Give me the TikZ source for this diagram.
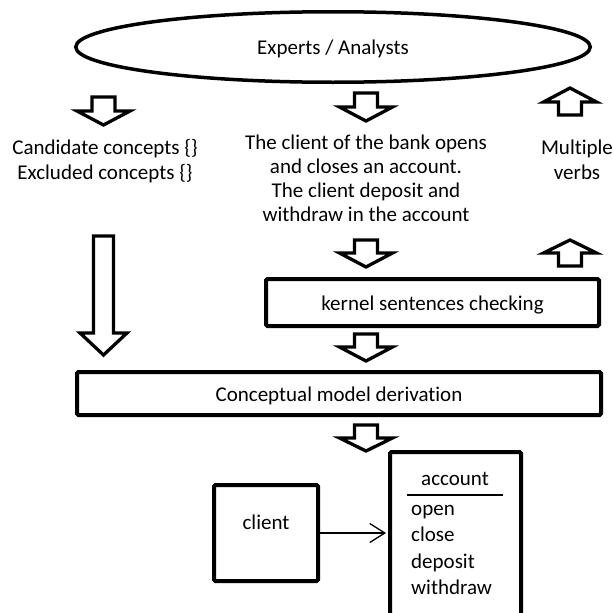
\documentclass[tikz,border=0pt]{standalone}
\usepackage{fontspec}
\setmainfont{Carlito}[Ligatures=NoCommon]
\usetikzlibrary{shapes.geometric,arrows.meta}
\newcommand{\dnarr}[6]{% cx, top, head, tip, shaft half, head half
  \draw[blk] ({#1-#5},-#2) -- ({#1+#5},-#2) -- ({#1+#5},-#3) -- ({#1+#6},-#3) -- (#1,-#4) -- ({#1-#6},-#3) -- ({#1-#5},-#3) -- cycle;}
\newcommand{\uparr}[6]{% cx, tip, head, bottom, shaft half, head half
  \draw[blk] ({#1-#5},-#4) -- ({#1+#5},-#4) -- ({#1+#5},-#3) -- ({#1+#6},-#3) -- (#1,-#2) -- ({#1-#6},-#3) -- ({#1-#5},-#3) -- cycle;}
\begin{document}
\begin{tikzpicture}[x=1pt,y=1pt,
  blk/.style={draw=black,line width=3.3pt,fill=white,line join=miter},
  boxn/.style={draw=black,line width=4pt,rounded corners=1.5pt,fill=white,inner sep=0pt,
    font=\fontsize{21}{25}\selectfont},
  lowtext/.style={text height=15pt,text depth=0pt},
  txt/.style={font=\fontsize{21}{25}\selectfont,inner sep=0pt,align=center},
  txtb/.style={font=\fontsize{21}{24}\selectfont,inner sep=0pt,align=center},
]
\useasboundingbox (0,0) rectangle (613,-613);
\clip (0,0) rectangle (613,-613);

% top ellipse
\node[ellipse,draw=black,line width=3.5pt,minimum width=514.5pt,minimum height=70.5pt,
  inner sep=0pt,lowtext,font=\fontsize{21}{25}\selectfont] (experts) at (333,-47) {Experts / Analysts};

% top row arrows
\dnarr{103.5}{97}{111}{125}{11.5}{26.5}
\dnarr{366}{93}{107}{121}{11.5}{26.5}
\uparr{570}{88}{102}{115}{11.5}{26.5}

% top row texts
\node[txt] (cand) at (105,-161) {Candidate concepts \{\}\\Excluded concepts \{\}};
\node[txtb] (sent) at (366,-178) {The client of the bank opens\\and closes an account.\\The client deposit and\\withdraw in the account};
\node[txt] (multi) at (577,-160) {Multiple\\verbs};

% second row arrows
\dnarr{366}{240}{253}{267}{11.5}{26.5}
\uparr{570}{240}{253}{266}{11.5}{26.5}
\dnarr{103.5}{236}{333}{355}{10}{23.5}

% kernel box
\node[boxn,lowtext,minimum width=333pt,minimum height=47pt] (kernel) at (432.5,-302.5) {kernel sentences checking};

\dnarr{366}{334}{347}{361}{11.5}{26.5}

% conceptual model box
\node[boxn,lowtext,minimum width=524pt,minimum height=43pt] (concept) at (339,-393.5) {Conceptual model derivation};

\dnarr{366}{425}{438}{451}{11.5}{26.5}

% class boxes
\node[boxn,minimum width=104pt,minimum height=96pt] (client) at (266,-533) {};
\node[txt,anchor=base] (clientname) at (266,-529) {client};

\node[boxn,minimum width=131pt,minimum height=208pt] (account) at (455.5,-556) {};
\node[txt,anchor=base] (accname) at (455,-485) {account};
\draw[line width=1.5pt] (407,-495) -- (503,-495);
\node[txt,anchor=base west] (mopen) at (411,-515) {open};
\node[txt,anchor=base west] (mclose) at (411,-541.5) {close};
\node[txt,anchor=base west] (mdeposit) at (411,-568) {deposit};
\node[txt,anchor=base west] (mwithdraw) at (411,-594.5) {withdraw};

\draw[line width=1.3pt,-{Straight Barb[length=15pt,width=19pt,line width=1.3pt]},shorten >=2pt]
  (client.east) -- (client.east -| account.west);
\end{tikzpicture}
\end{document}
